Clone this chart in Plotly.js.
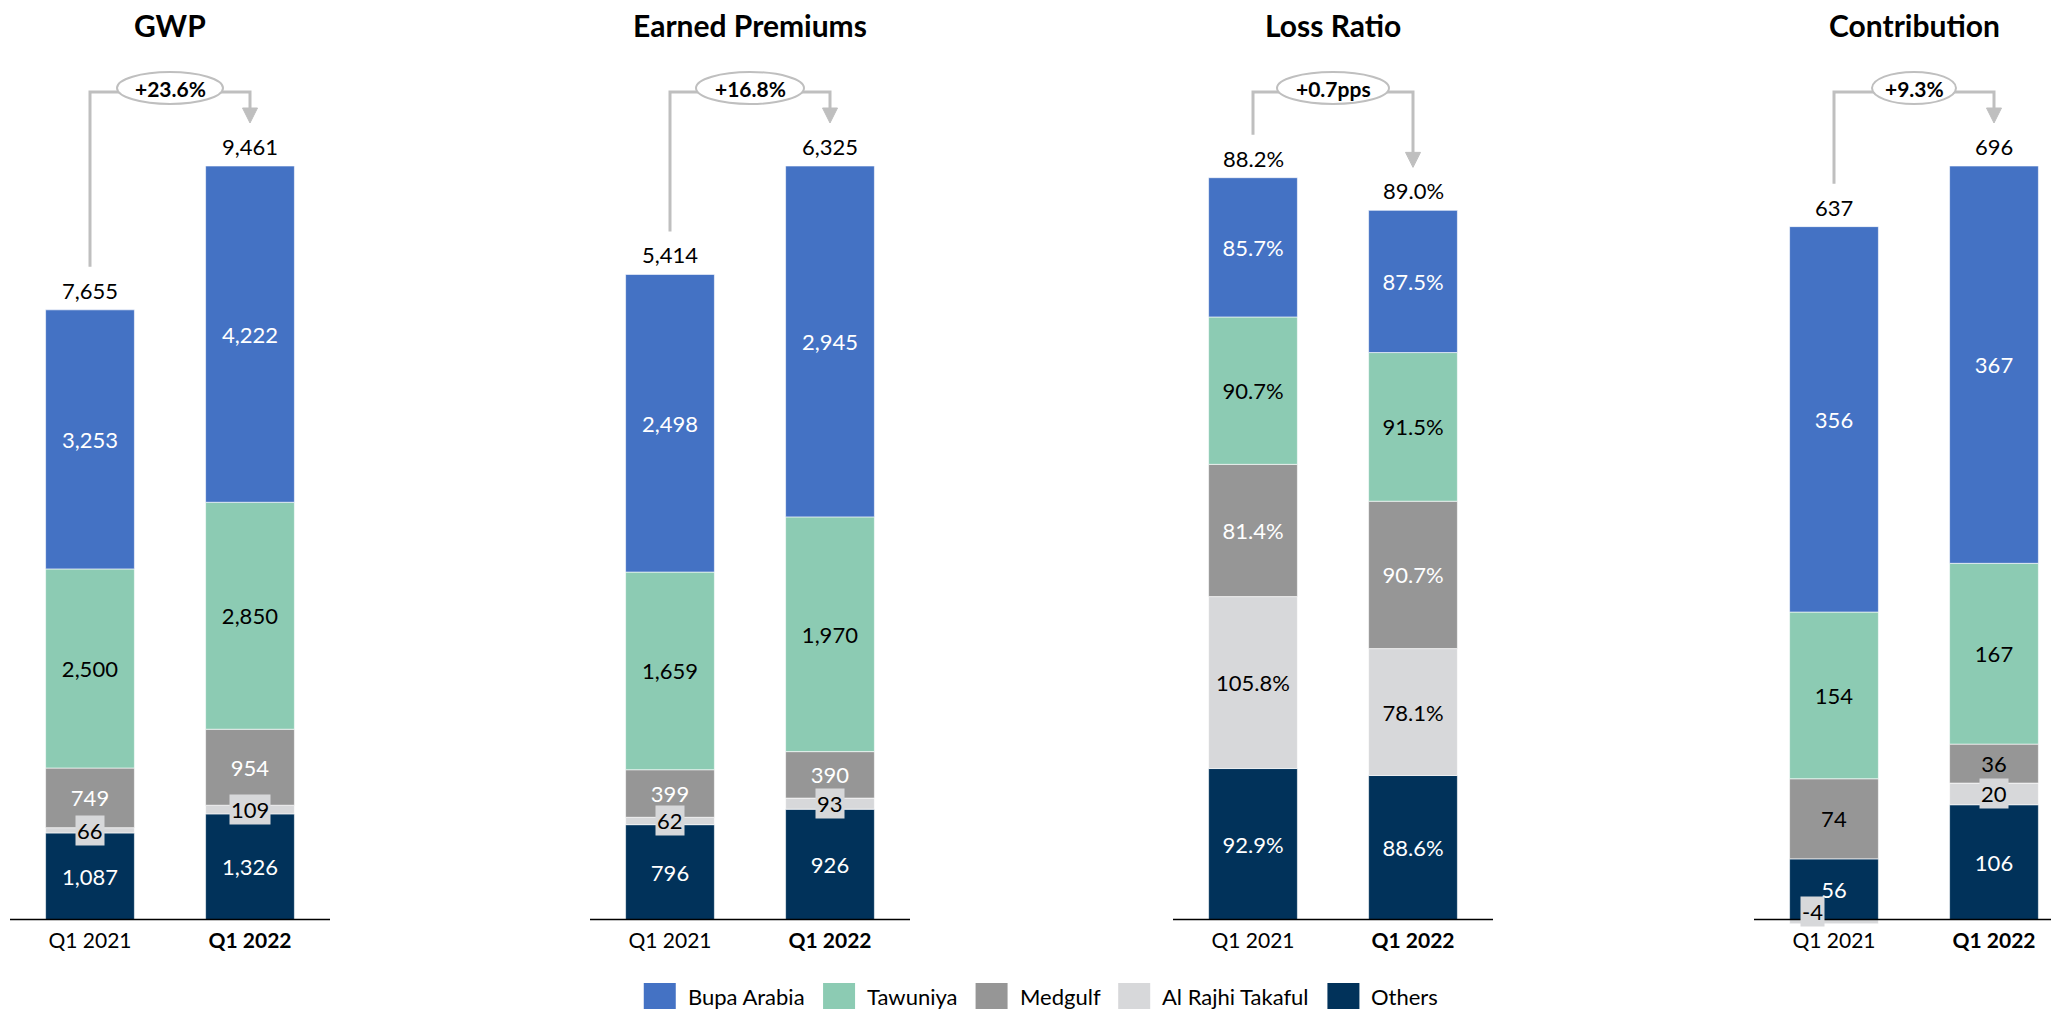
<!DOCTYPE html>
<html><head><meta charset="utf-8">
<script src="https://cdn.plot.ly/plotly-3.0.1.min.js"></script>
<style>html,body{margin:0;padding:0;background:#fff;} #chart{width:2051px;height:1011px;}</style>
</head><body><div id="chart"></div>
<script>
// ---------------- DATA ----------------
const categories = ['Q1 2021', 'Q1 2022'];
const seriesNames = ['Bupa Arabia', 'Tawuniya', 'Medgulf', 'Al Rajhi Takaful', 'Others'];
const panelTitles = ['GWP', 'Earned Premiums', 'Loss Ratio', 'Contribution'];

const gwpBupa = [3253, 4222];
const gwpTawuniya = [2500, 2850];
const gwpMedgulf = [749, 954];
const gwpAlRajhi = [66, 109];
const gwpOthers = [1087, 1326];
const gwpTotal = [7655, 9461];
const gwpChange = '+23.6%';

const epBupa = [2498, 2945];
const epTawuniya = [1659, 1970];
const epMedgulf = [399, 390];
const epAlRajhi = [62, 93];
const epOthers = [796, 926];
const epTotal = [5414, 6325];
const epChange = '+16.8%';

const lrBupa = [85.7, 87.5];
const lrTawuniya = [90.7, 91.5];
const lrMedgulf = [81.4, 90.7];
const lrAlRajhi = [105.8, 78.1];
const lrOthers = [92.9, 88.6];
const lrTotal = [88.2, 89.0];
const lrChange = '+0.7pps';

const ctBupa = [356, 367];
const ctTawuniya = [154, 167];
const ctMedgulf = [74, 36];
const ctAlRajhi = [-4, 20];
const ctOthers = [56, 106];
const ctTotal = [637, 696];
const ctChange = '+9.3%';

// ---------------- STYLE / LAYOUT ----------------
const seriesColors = ['#4472C4', '#8CCBB3', '#969696', '#D7D8DA', '#01325A'];
const FONT = 'Lato, "Open Sans", sans-serif';
const LABEL_SIZE = 22;
const W = 2051, H = 1011;
const PX = {baseline: 919.5, barTop: 166, plotTop: 40, plotBottom: 926,
            bracketY: 92, ellipseY: 88, ellipseH: 32, gapAbove: 43,
            arrowH: 15, arrowW: 15, titleY: 25};
const domainsPx = [[10, 330], [590, 910], [1173, 1493], [1754, 2051]];
const pxPerCat = 160;
const ellipseW = [106, 108, 112, 84];
const scaleOverride = [null, null, 463.7, null];
const bracketColor = '#BFBFBF';

const panels = [
  {values: [gwpBupa, gwpTawuniya, gwpMedgulf, gwpAlRajhi, gwpOthers], total: gwpTotal, change: gwpChange, fmt: 'num',
   textColors: ['#fff', '#000', '#fff', '#000', '#fff']},
  {values: [epBupa, epTawuniya, epMedgulf, epAlRajhi, epOthers], total: epTotal, change: epChange, fmt: 'num',
   textColors: ['#fff', '#000', '#fff', '#000', '#fff']},
  {values: [lrBupa, lrTawuniya, lrMedgulf, lrAlRajhi, lrOthers], total: lrTotal, change: lrChange, fmt: 'pct',
   textColors: ['#fff', '#000', '#fff', '#000', '#fff']},
  {values: [ctBupa, ctTawuniya, ctMedgulf, ctAlRajhi, ctOthers], total: ctTotal, change: ctChange, fmt: 'num',
   textColors: ['#fff', '#000', '#000', '#000', '#fff']}
];

function fmtVal(v, f) {
  if (f === 'pct') return v.toFixed(1) + '%';
  return v.toLocaleString('en-US');
}

const traces = [];
const shapes = [];
const annotations = [];
const layout = {
  width: W, height: H, margin: {l: 0, r: 0, t: 0, b: 0},
  paper_bgcolor: '#fff', plot_bgcolor: 'rgba(0,0,0,0)',
  barmode: 'relative', bargap: 0.445, showlegend: false,
  font: {family: FONT, size: LABEL_SIZE, color: '#000'}
};

panels.forEach((p, pi) => {
  const ax = pi === 0 ? '' : String(pi + 1);
  const xr = 'x' + ax, yr = 'y' + ax;
  const d0 = domainsPx[pi][0], d1 = domainsPx[pi][1];
  const xRange = [-0.5, -0.5 + (d1 - d0) / pxPerCat];
  const posTop = [0, 1].map(i => p.values.reduce((a, s) => a + Math.max(0, s[i]), 0));
  const scaleTop = scaleOverride[pi] || Math.max(...posTop);
  const ppu = (PX.baseline - PX.barTop) / scaleTop;
  const yd = px => (PX.baseline - px) / ppu;
  const ydPx = v => PX.baseline - v * ppu;

  layout['xaxis' + ax] = {
    domain: [d0 / W, d1 / W], anchor: yr, range: xRange, type: 'linear',
    tickvals: [0, 1], ticktext: [categories[0], '<b>' + categories[1] + '</b>'],
    showgrid: false, zeroline: false, showline: false, ticks: '',
    tickfont: {family: FONT, size: 21, color: '#000'}, fixedrange: true
  };
  layout['yaxis' + ax] = {
    domain: [1 - PX.plotBottom / H, 1 - PX.plotTop / H], anchor: xr,
    range: [yd(PX.plotBottom), yd(PX.plotTop)],
    showgrid: false, zeroline: false, showline: false, showticklabels: false, ticks: '', fixedrange: true
  };

  // bars: stacked bottom-up Others, Al Rajhi, Medgulf, Tawuniya, Bupa
  const cum = [0, 0];
  const negCum = [0, 0];
  [4, 3, 2, 1, 0].forEach(si => {
    const vals = p.values[si];
    const texts = vals.map((v, i) => {
      const hpx = Math.abs(v) * ppu;
      if (hpx < 30) {
        let ann;
        if (v < 0) {
          ann = {x: i, y: negCum[i], xref: xr, yref: yr, yanchor: 'bottom', xshift: -22, yshift: -7};
        } else {
          ann = {x: i, y: cum[i] + v / 2, xref: xr, yref: yr, yanchor: 'middle'};
        }
        Object.assign(ann, {text: fmtVal(v, p.fmt), showarrow: false, bgcolor: seriesColors[3], borderpad: 1,
          font: {family: FONT, size: LABEL_SIZE, color: '#000'}});
        annotations.push(ann);
        return '';
      }
      return fmtVal(v, p.fmt);
    });
    vals.forEach((v, i) => { if (v >= 0) cum[i] += v; else negCum[i] += v; });
    traces.push({
      type: 'bar', x: [0, 1], y: vals, name: seriesNames[si], xaxis: xr, yaxis: yr,
      marker: {color: seriesColors[si], line: {color: 'rgba(255,255,255,0.6)', width: 1}},
      text: texts, textposition: 'inside', insidetextanchor: 'middle', textangle: 0, constraintext: 'none',
      insidetextfont: {family: FONT, size: LABEL_SIZE, color: p.textColors[si]},
      hoverinfo: 'skip', showlegend: false
    });
  });

  // baseline
  shapes.push({type: 'line', xref: xr, yref: yr, x0: xRange[0], x1: xRange[1], y0: 0, y1: 0,
    line: {color: '#000', width: 1.5}, layer: 'above'});

  // total labels
  [0, 1].forEach(i => {
    annotations.push({x: i, y: posTop[i], xref: xr, yref: yr, yanchor: 'bottom', yshift: 4,
      text: fmtVal(p.total[i], p.fmt), showarrow: false, font: {family: FONT, size: LABEL_SIZE, color: '#000'}});
  });

  // bracket
  const startPx = ydPx(posTop[0]) - PX.gapAbove;
  const tipPx = ydPx(posTop[1]) - PX.gapAbove;
  const basePx = tipPx - PX.arrowH;
  const ty = yd(PX.bracketY);
  shapes.push({type: 'path', xref: xr, yref: yr,
    path: `M 0,${yd(startPx)} L 0,${ty} L 1,${ty} L 1,${yd(basePx)}`,
    line: {color: bracketColor, width: 3}, fillcolor: 'rgba(0,0,0,0)', layer: 'above'});
  const hw = PX.arrowW / 2 / pxPerCat;
  shapes.push({type: 'path', xref: xr, yref: yr,
    path: `M ${1 - hw},${yd(basePx)} L ${1 + hw},${yd(basePx)} L 1,${yd(tipPx)} Z`,
    line: {color: bracketColor, width: 1}, fillcolor: bracketColor, layer: 'above'});
  const ew = ellipseW[pi] / 2 / pxPerCat;
  shapes.push({type: 'circle', xref: xr, yref: yr,
    x0: 0.5 - ew, x1: 0.5 + ew, y0: yd(PX.ellipseY + PX.ellipseH / 2), y1: yd(PX.ellipseY - PX.ellipseH / 2),
    line: {color: bracketColor, width: 2}, fillcolor: '#fff', layer: 'above'});
  annotations.push({x: 0.5, y: yd(PX.ellipseY), xref: xr, yref: yr, yanchor: 'middle', showarrow: false,
    text: '<b>' + p.change + '</b>', font: {family: FONT, size: 21, color: '#000'}});

  // title
  annotations.push({x: 0.5, y: 1 - PX.titleY / H, xref: xr, yref: 'paper', yanchor: 'middle', showarrow: false,
    text: '<b>' + panelTitles[pi] + '</b>', font: {family: FONT, size: 30, color: '#000'}});
});

// manual legend
(function () {
  const ctx = document.createElement('canvas').getContext('2d');
  ctx.font = '22px Lato';
  const sqW = 32, sqH = 26, gapT = 10, gapI = 20, cx = 1040, cy = 996;
  const tw = seriesNames.map(n => ctx.measureText(n).width);
  const total = tw.reduce((a, w) => a + sqW + gapT + w, 0) + gapI * (seriesNames.length - 1);
  let x = cx - total / 2;
  seriesNames.forEach((n, i) => {
    shapes.push({type: 'rect', xref: 'paper', yref: 'paper', x0: x / W, x1: (x + sqW) / W,
      y0: 1 - (cy + sqH / 2) / H, y1: 1 - (cy - sqH / 2) / H, fillcolor: seriesColors[i], line: {width: 0}});
    annotations.push({x: (x + sqW + gapT) / W, y: 1 - cy / H, xref: 'paper', yref: 'paper', xanchor: 'left',
      yanchor: 'middle', text: n, showarrow: false, font: {family: FONT, size: 22, color: '#000'}});
    x += sqW + gapT + tw[i] + gapI;
  });
})();

layout.shapes = shapes;
layout.annotations = annotations;
Plotly.newPlot('chart', traces, layout, {displayModeBar: false, staticPlot: true});
</script>
</body></html>
